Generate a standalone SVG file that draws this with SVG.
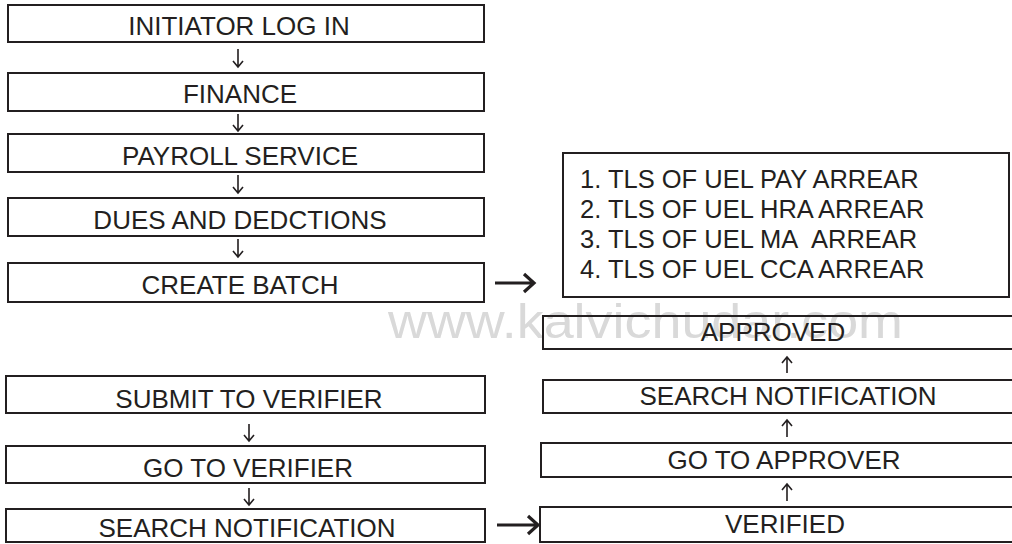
<svg xmlns="http://www.w3.org/2000/svg" width="1012" height="544" viewBox="0 0 1012 544">
<style>
.box{fill:none;stroke:#231f20;stroke-width:2}
.t{font-family:"Liberation Sans",Arial,sans-serif;font-size:26px;fill:#231f20;text-anchor:middle}
.l{font-family:"Liberation Sans",Arial,sans-serif;font-size:25.5px;fill:#231f20}
.wm{font-family:"Liberation Sans",Arial,sans-serif;font-size:48px;fill:#d9d9d9}
.thin{stroke:#231f20;stroke-width:1.6;fill:none}
.thick{stroke:#231f20;stroke-width:3.2;fill:none}
</style>
<rect x="0" y="0" width="1012" height="544" fill="#fff"/>
<text class="wm" x="388" y="338" textLength="515" lengthAdjust="spacingAndGlyphs">www.kalvichudar.com</text>
<g id="n1"><rect class="box" x="8" y="5" width="476" height="37"/><text class="t" x="239" y="35">INITIATOR LOG IN</text></g>
<g id="n2"><rect class="box" x="8" y="73" width="476" height="38"/><text class="t" x="240" y="103">FINANCE</text></g>
<g id="n3"><rect class="box" x="8" y="134" width="476" height="38"/><text class="t" x="240" y="165">PAYROLL SERVICE</text></g>
<g id="n4"><rect class="box" x="8" y="198" width="476" height="38"/><text class="t" x="240" y="229">DUES AND DEDCTIONS</text></g>
<g id="n5"><rect class="box" x="8" y="263" width="476" height="39"/><text class="t" x="240" y="294">CREATE BATCH</text></g>
<g id="n6"><rect class="box" x="563" y="153" width="446" height="144"/>
<text class="l" x="580" y="188">1. TLS OF UEL PAY ARREAR</text>
<text class="l" x="580" y="218">2. TLS OF UEL HRA ARREAR</text>
<text class="l" x="580" y="248">3. TLS OF UEL MA&#160; ARREAR</text>
<text class="l" x="580" y="278">4. TLS OF UEL CCA ARREAR</text></g>
<g id="n7"><rect class="box" x="6" y="376" width="479" height="37"/><text class="t" x="249" y="408">SUBMIT TO VERIFIER</text></g>
<g id="n8"><rect class="box" x="6" y="446" width="479" height="37"/><text class="t" x="248" y="477">GO TO VERIFIER</text></g>
<g id="n9"><rect class="box" x="6" y="509" width="479" height="33"/><text class="t" x="247" y="537">SEARCH NOTIFICATION</text></g>
<g id="n10"><rect class="box" x="543" y="316" width="470" height="33"/><text class="t" x="773" y="341">APPROVED</text></g>
<g id="n11"><rect class="box" x="543" y="380" width="470" height="33"/><text class="t" x="788" y="405">SEARCH NOTIFICATION</text></g>
<g id="n12"><rect class="box" x="541" y="443" width="472" height="34"/><text class="t" x="784" y="469">GO TO APPROVER</text></g>
<g id="n13"><rect class="box" x="540" y="507" width="473" height="35"/><text class="t" x="785" y="533">VERIFIED</text></g>
<g id="connectors">
<path class="thin" d="M238 49V67M233 61L238 67L243 61"/>
<path class="thin" d="M238 114V131M233 125L238 131L243 125"/>
<path class="thin" d="M238 175V193M233 187L238 193L243 187"/>
<path class="thin" d="M238 239V257M233 251L238 257L243 251"/>
<path class="thin" d="M249 424V441M244 435L249 441L254 435"/>
<path class="thin" d="M249 488V505M244 499L249 505L254 499"/>
<path class="thick" d="M495 283H533M524 274L534 283L524 292"/>
<path class="thick" d="M497 525H537M528 516L538 525L528 534"/>
<path class="thin" d="M787 373V357M782 363L787 357L792 363"/>
<path class="thin" d="M787 437V420M782 426L787 420L792 426"/>
<path class="thin" d="M787 501V484M782 490L787 484L792 490"/>
</g>
</svg>
